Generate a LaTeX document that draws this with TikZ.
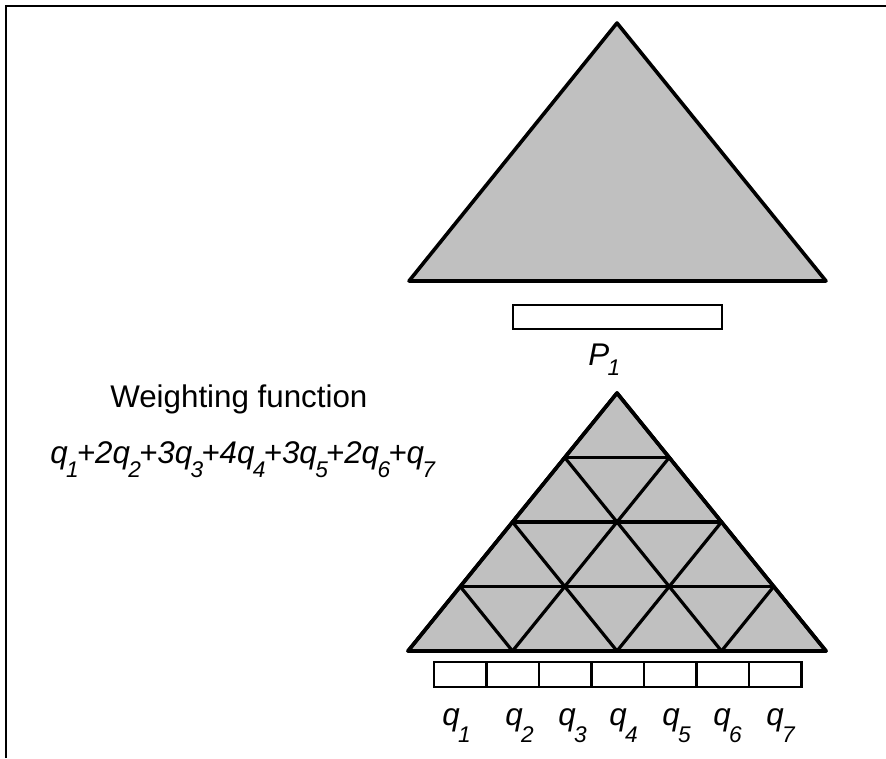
\documentclass[tikz,border=0pt]{standalone}
\usepackage{fontspec}
\setmainfont{Liberation Sans}
\newcommand\mysub[2]{\kern-1.2pt\raisebox{-#1}{\fontsize{17}{18}\selectfont #2}\kern-1.4pt}
\tikzset{
  tri/.style={draw=black, fill=triGray, line width=2.7pt, line join=round},
  gridline/.style={draw=black, line width=2.4pt, line cap=round},
  cell/.style={draw=black, fill=white, line width=1.6pt},
  frameline/.style={draw=black, line width=1.8pt},
  lbl/.style={inner sep=0pt, font=\fontsize{23.5}{26}\selectfont\itshape},
  plain/.style={inner sep=0pt, font=\fontsize{23.5}{26}\selectfont}
}
\definecolor{triGray}{RGB}{192,192,192}
\begin{document}
\begin{tikzpicture}[x=0.75pt,y=-0.75pt]
\useasboundingbox (0,0) rectangle (886,758);
% frame (top and left sides only)
\coordinate (f1) at (6,758);
\coordinate (f2) at (6,6);
\coordinate (f3) at (886,6);
\draw[frameline] (f1) -- (f2) -- (f3);
% top triangle
\coordinate (ta) at (617,23);
\coordinate (tl) at (409,281);
\coordinate (tr) at (826,281);
\draw[tri] (ta) -- (tl) -- (tr) -- cycle;
% P1 bar
\node[cell, minimum width=209*0.75pt, minimum height=24*0.75pt, inner sep=0pt] (pbar) at (617.5,317) {};
\node[lbl, anchor=base west] (plabel) at (588,365) {P\mysub{7.5pt}{1}};
% bottom triangle
\coordinate (ba) at (617,393);
\coordinate (bl) at (408,651);
\coordinate (br) at (826,651);
\draw[tri] (ba) -- (bl) -- (br) -- cycle;
\foreach \k in {1,2,3}{
  \draw[gridline] ({617-\k*52.25},{393+\k*64.5}) -- ({617+\k*52.25},{393+\k*64.5});
  \draw[gridline] ({617-\k*52.25},{393+\k*64.5}) -- ({617+(4-2*\k)*52.25},651);
  \draw[gridline] ({617+\k*52.25},{393+\k*64.5}) -- ({617-(4-2*\k)*52.25},651);
}
\draw[tri, fill=none] (ba) -- (bl) -- (br) -- cycle;
% q cells
\foreach \i in {0,...,6}{
  \node[cell, minimum width=52.5*0.75pt, minimum height=25*0.75pt, inner sep=0pt] (c\i) at ({434+52.5*\i+26.25},674.5) {};
}
% q labels
\node[lbl, anchor=base west] (q1) at (442,725) {q\mysub{12.75pt}{1}};
\node[lbl, anchor=base west] (q2) at (505,725) {q\mysub{12.75pt}{2}};
\node[lbl, anchor=base west] (q3) at (558,725) {q\mysub{12.75pt}{3}};
\node[lbl, anchor=base west] (q4) at (609,725) {q\mysub{12.75pt}{4}};
\node[lbl, anchor=base west] (q5) at (662,725) {q\mysub{12.75pt}{5}};
\node[lbl, anchor=base west] (q6) at (713,725) {q\mysub{12.75pt}{6}};
\node[lbl, anchor=base west] (q7) at (766,725) {q\mysub{12.75pt}{7}};
% texts
\node[plain, anchor=base west] (wf) at (110,407) {Weighting function};
\node[lbl, anchor=base west] (formula) at (50,463) {q\mysub{10.5pt}{1}+2q\mysub{10.5pt}{2}+3q\mysub{10.5pt}{3}+4q\mysub{10.5pt}{4}+3q\mysub{10.5pt}{5}+2q\mysub{10.5pt}{6}+q\mysub{10.5pt}{7}};
\end{tikzpicture}
\end{document}
